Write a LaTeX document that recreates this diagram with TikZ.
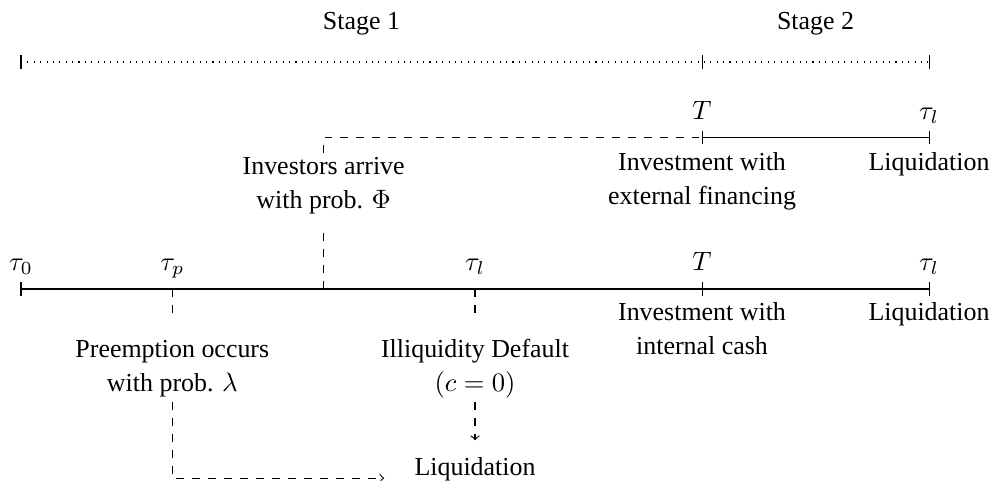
\documentclass[tikz,border=0pt]{standalone}
\usepackage{fontspec}
\setmainfont{Liberation Serif}
\begin{document}
\begin{tikzpicture}[
  every node/.style={font=\fontsize{9.75}{12.8}\selectfont},
  lbl/.style={anchor=base,inner sep=0pt},
  conn/.style={dashed},
  axisline/.style={line width=0.4pt},
  >=to]
\useasboundingbox (-0.2775,-2.537) rectangle (12.832,3.819);

% ---------- stage line ----------
\coordinate (s0) at (0,3);
\coordinate (s1) at (9,3);
\coordinate (s2) at (12,3);
\node (st1) at (4.5,3.5) {Stage 1};
\node (st2) at (10.5,3.5) {Stage 2};
\draw[dotted] (s0) -- (s2);
\foreach \c in {s0,s1,s2} \draw[axisline] (\c) ++(0,-0.09) -- ++(0,0.18);

% ---------- upper (external financing) line ----------
\coordinate (u9) at (9,2);
\coordinate (u12) at (12,2);
\draw[axisline] (u9) -- (u12);
\foreach \c in {u9,u12} \draw[axisline] (\c) ++(0,-0.09) -- ++(0,0.18);
\node[lbl] (uT) at (9,2.24) {$T$};
\node[lbl] (utl) at (12,2.24) {$\tau_l$};
\node[lbl] (ext1) at (9,1.56) {Investment with};
\node[lbl] (ext2) at (9,1.11) {external financing};
\node[lbl] (uliq) at (12,1.56) {Liquidation};

% ---------- main line ----------
\coordinate (m0) at (0,0);
\coordinate (m2) at (2,0);
\coordinate (m4) at (4,0);
\coordinate (m6) at (6,0);
\coordinate (m9) at (9,0);
\coordinate (m12) at (12,0);
\draw[axisline] (m0) -- (m12);
\foreach \c in {m0,m9,m12} \draw[axisline] (\c) ++(0,-0.09) -- ++(0,0.18);
\node[lbl] (t0) at (0,0.24) {$\tau_0$};
\node[lbl] (tp) at (2,0.24) {$\tau_p$};
\node[lbl] (tl) at (6,0.24) {$\tau_l$};
\node[lbl] (mT) at (9,0.24) {$T$};
\node[lbl] (mtl) at (12,0.24) {$\tau_l$};
\node[lbl] (int1) at (9,-0.42) {Investment with};
\node[lbl] (int2) at (9,-0.87) {internal cash};
\node[lbl] (mliq) at (12,-0.42) {Liquidation};

% ---------- investors arrive ----------
\coordinate (iB) at (4,0.8);
\coordinate (iC) at (4,1.8);
\coordinate (iD) at (4,2);
\node[lbl] (inv1) at (4,1.51) {Investors arrive};
\node[lbl] (inv2) at (4,1.06) {with prob. $\Phi$};
\draw[conn] (m4) -- (iB);
\draw[conn] (iC) -- (iD) -- (u9);

% ---------- preemption ----------
\coordinate (pB) at (2,-0.4);
\coordinate (pC) at (2,-1.5);
\coordinate (pD) at (2,-2.5);
\coordinate (pE) at (4.8,-2.5);
\node[lbl] (pre1) at (2,-0.9) {Preemption occurs};
\node[lbl] (pre2) at (2,-1.35) {with prob. $\lambda$};
\draw[conn] (m2) -- (pB);
\draw[conn,->] (pC) -- (pD) -- (pE);

% ---------- illiquidity default ----------
\coordinate (lB) at (6,-0.4);
\coordinate (lC) at (6,-1.5);
\coordinate (lD) at (6,-2);
\node[lbl] (ill1) at (6,-0.9) {Illiquidity Default};
\node[lbl] (ill2) at (6,-1.35) {$(c=0)$};
\draw[conn] (m6) -- (lB);
\draw[conn,->] (lC) -- (lD);
\node[lbl] (bliq) at (6,-2.46) {Liquidation};
\end{tikzpicture}
\end{document}
